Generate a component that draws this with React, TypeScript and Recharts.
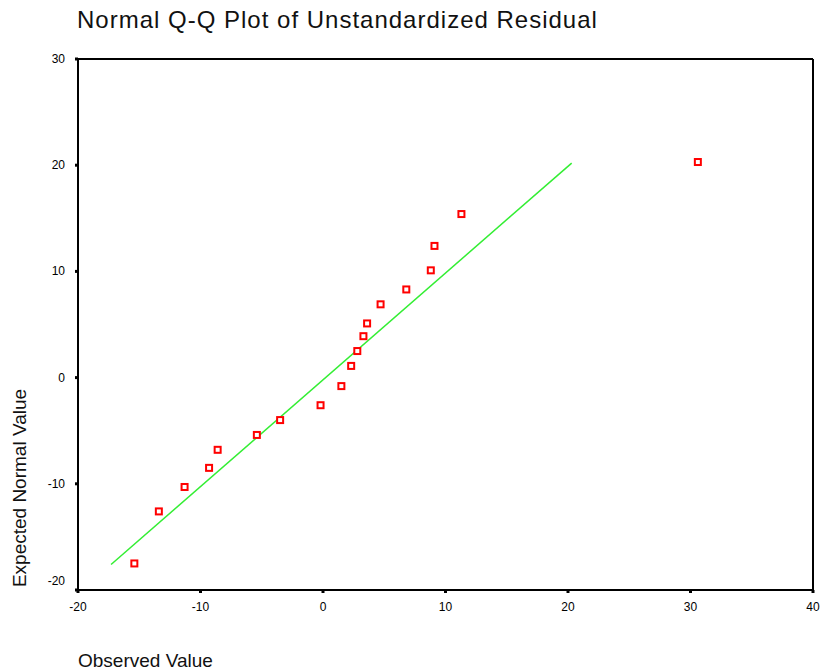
import React from "react";
import { ScatterChart, Scatter, XAxis, YAxis, ReferenceLine } from "recharts";

const observed = [-15.4, -13.4, -11.3, -9.3, -8.6, -5.4, -3.5, -0.2, 1.5, 2.3, 2.8, 3.3, 3.6, 4.7, 6.8, 8.8, 9.1, 11.3, 30.6];
const expected = [-17.5, -12.6, -10.3, -8.5, -6.8, -5.4, -4.0, -2.6, -0.8, 1.1, 2.5, 3.9, 5.1, 6.9, 8.3, 10.1, 12.4, 15.4, 20.3];
const xTicks = [-20, -10, 0, 10, 20, 30, 40];
const yTicks = [-20, -10, 0, 10, 20, 30];
const lineStart = { x: -17.3, y: -17.6 };
const lineEnd = { x: 20.3, y: 20.2 };

const points = observed.map((x, i) => ({ x, y: expected[i] }));

const FONT = "'Liberation Sans', Arial, sans-serif";

const Marker = (props: any) => {
  const { cx, cy } = props;
  if (cx == null || cy == null) return null;
  return <rect x={cx - 3} y={cy - 3} width={6} height={6} fill="#fff" stroke="#ff0000" strokeWidth={2} />;
};

const YTick = (props: any) => {
  const { x, y, payload } = props;
  const shift = payload.value === yTicks[0] ? -9 : 0;
  return (
    <text x={x} y={y + shift} dy={4} textAnchor="end" fill="#000" fontSize={12} fontFamily={FONT}>
      {payload.value}
    </text>
  );
};

export default function App() {
  return (
    <div style={{ position: "absolute", left: 0, top: 0, width: 820, height: 671, background: "#fff" }}>
      <ScatterChart width={820} height={671} margin={{ top: 59, right: 7, bottom: 0, left: 0 }}>
        <XAxis
          type="number"
          dataKey="x"
          domain={[-20, 40]}
          ticks={xTicks}
          interval={0}
          height={81}
          allowDataOverflow
          axisLine={{ stroke: "#000", strokeWidth: 2 }}
          tickLine={{ stroke: "#000", strokeWidth: 3 }}
          tickSize={3}
          tickMargin={9}
          tick={{ fill: "#000", fontSize: 12, fontFamily: FONT }}
        />
        <YAxis
          type="number"
          dataKey="y"
          domain={[-20, 30]}
          ticks={yTicks}
          interval={0}
          width={78}
          allowDataOverflow
          axisLine={{ stroke: "#000", strokeWidth: 2 }}
          tickLine={{ stroke: "#000", strokeWidth: 3 }}
          tickSize={3}
          tickMargin={10}
          tick={<YTick />}
        />
        <ReferenceLine y={30} stroke="#000" strokeWidth={2} />
        <ReferenceLine x={40} stroke="#000" strokeWidth={2} />
        <ReferenceLine segment={[lineStart, lineEnd]} stroke="#33ee33" strokeWidth={1.5} />
        <Scatter data={points} shape={<Marker />} isAnimationActive={false} />
      </ScatterChart>
      <div style={{ position: "absolute", left: 77, top: 6, fontFamily: FONT, fontSize: 24, letterSpacing: 1, color: "#111", whiteSpace: "nowrap" }}>
        Normal Q-Q Plot of Unstandardized Residual
      </div>
      <div style={{ position: "absolute", left: 78, top: 650, fontFamily: FONT, fontSize: 19, color: "#111", whiteSpace: "nowrap" }}>
        Observed Value
      </div>
      <div
        style={{
          position: "absolute",
          left: 19.5,
          top: 487.5,
          fontFamily: FONT,
          fontSize: 19,
          color: "#111",
          whiteSpace: "nowrap",
          transform: "translate(-50%, -50%) rotate(-90deg)",
        }}
      >
        Expected Normal Value
      </div>
    </div>
  );
}
